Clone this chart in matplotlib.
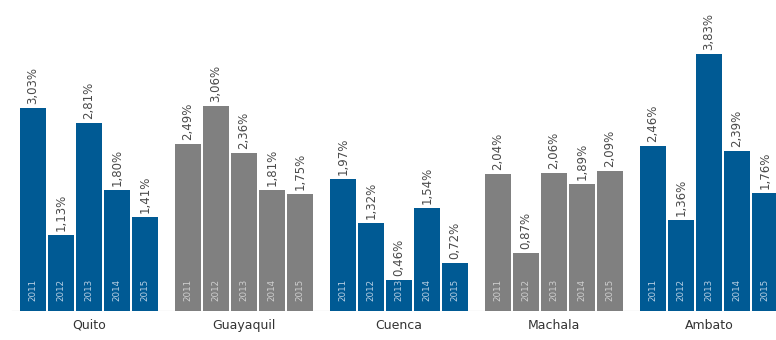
import numpy as np
import matplotlib.pyplot as plt

cities = ['Quito', 'Guayaquil', 'Cuenca', 'Machala', 'Ambato']
years = ['2011', '2012', '2013', '2014', '2015']
values = [
    [3.03, 1.13, 2.81, 1.80, 1.41],   # Quito
    [2.49, 3.06, 2.36, 1.81, 1.75],   # Guayaquil
    [1.97, 1.32, 0.46, 1.54, 0.72],   # Cuenca
    [2.04, 0.87, 2.06, 1.89, 2.09],   # Machala
    [2.46, 1.36, 3.83, 2.39, 1.76],   # Ambato
]
colors = ['#005a94', '#808080', '#005a94', '#808080', '#005a94']

group_step = 5.536
fig = plt.figure(figsize=(7.76, 3.40), dpi=100)
ax = fig.add_axes([0, 29 / 340, 1, 311 / 340])

for g, city in enumerate(cities):
    xs = g * group_step + np.arange(len(years))
    ax.bar(xs, values[g], width=0.92, color=colors[g], edgecolor='none', zorder=2)
    for x, v, yr in zip(xs, values[g], years):
        ax.text(x, v + 0.06, ('%.2f%%' % v).replace('.', ','), rotation=90,
                ha='center', va='bottom', fontsize=8.5, color='#4a4a4a')
        ax.text(x, 0.32, yr, rotation=90, ha='center', va='center',
                fontsize=6.3, color='#b8cfe3' if colors[g] != '#808080' else '#cfcfcf')
    ax.text(xs.mean(), -0.21, city, ha='center', va='center', fontsize=9,
            color='#333333')

ax.axhline(0, xmin=12 / 776, color='#b0b0b0', lw=0.8, zorder=1)
ax.set_xlim(-33 / 28, (776 - 33) / 28)
ax.set_ylim(0, 311 / 67)
ax.axis('off')

fig.savefig('out.png', dpi=100)
